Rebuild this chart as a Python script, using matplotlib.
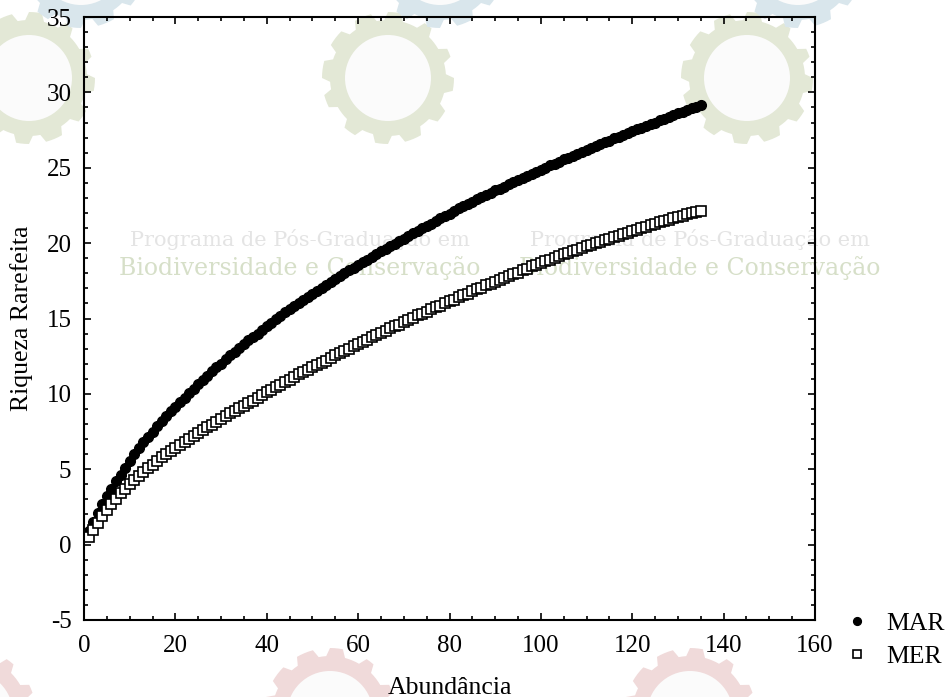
import numpy as np
import matplotlib
matplotlib.use("Agg")
import matplotlib.pyplot as plt
from matplotlib.patches import Circle, Polygon
from matplotlib.ticker import MultipleLocator

plt.rcParams['font.family'] = ['Liberation Serif', 'DejaVu Serif']
plt.rcParams['axes.unicode_minus'] = False

# abundance (number of individuals sampled)
abundance = list(range(1, 136))

# rarefied richness
mar = [0.9, 1.5, 2.1, 2.7, 3.2, 3.7, 4.2, 4.65, 5.1, 5.55,
       6.0, 6.4, 6.8, 7.15, 7.5, 7.85, 8.2, 8.5, 8.85, 9.15,
       9.45, 9.75, 10.05, 10.35, 10.65, 10.95, 11.2, 11.5, 11.75, 12.0,
       12.3, 12.55, 12.8, 13.05, 13.3, 13.55, 13.8, 14.0, 14.25, 14.5,
       14.7, 14.95, 15.15, 15.45, 15.65, 15.85, 16.05, 16.25, 16.45, 16.65,
       16.85, 17.05, 17.25, 17.45, 17.6, 17.8, 18.0, 18.2, 18.35, 18.55,
       18.75, 18.9, 19.1, 19.25, 19.45, 19.6, 19.8, 19.95, 20.15, 20.3,
       20.5, 20.65, 20.8, 21.0, 21.15, 21.3, 21.5, 21.65, 21.8, 21.95,
       22.1, 22.3, 22.45, 22.6, 22.75, 22.9, 23.05, 23.2, 23.35, 23.5,
       23.6, 23.75, 23.9, 24.05, 24.2, 24.3, 24.45, 24.6, 24.75, 24.85,
       25.0, 25.15, 25.25, 25.4, 25.55, 25.65, 25.8, 25.9, 26.05, 26.2,
       26.3, 26.45, 26.55, 26.7, 26.8, 26.95, 27.05, 27.2, 27.3, 27.45,
       27.55, 27.65, 27.8, 27.9, 28.0, 28.15, 28.25, 28.35, 28.5, 28.6,
       28.7, 28.85, 28.95, 29.05, 29.15]

mer = [0.5, 1.0, 1.45, 1.9, 2.3, 2.7, 3.05, 3.4, 3.7, 4.0,
       4.3, 4.55, 4.8, 5.05, 5.3, 5.55, 5.8, 6.0, 6.2, 6.4,
       6.6, 6.8, 7.0, 7.2, 7.4, 7.6, 7.8, 7.95, 8.15, 8.35,
       8.5, 8.7, 8.85, 9.05, 9.2, 9.4, 9.55, 9.75, 9.9, 10.1,
       10.25, 10.45, 10.6, 10.8, 10.95, 11.1, 11.3, 11.45, 11.6, 11.75,
       11.9, 12.05, 12.2, 12.4, 12.55, 12.7, 12.85, 13.0, 13.15, 13.3,
       13.45, 13.6, 13.75, 13.9, 14.05, 14.2, 14.35, 14.5, 14.6, 14.75,
       14.9, 15.05, 15.2, 15.3, 15.45, 15.6, 15.75, 15.85, 16.0, 16.15,
       16.25, 16.4, 16.55, 16.65, 16.8, 16.95, 17.05, 17.2, 17.3, 17.45,
       17.55, 17.7, 17.8, 17.95, 18.05, 18.2, 18.3, 18.45, 18.55, 18.65,
       18.8, 18.9, 19.0, 19.15, 19.25, 19.35, 19.45, 19.55, 19.7, 19.8,
       19.9, 20.0, 20.1, 20.2, 20.3, 20.4, 20.5, 20.6, 20.7, 20.8,
       20.9, 21.0, 21.1, 21.2, 21.3, 21.4, 21.45, 21.55, 21.65, 21.75,
       21.8, 21.9, 22.0, 22.05, 22.15]

W, H = 951.0, 697.0
fig = plt.figure(figsize=(W / 100, H / 100), dpi=100)
px = fig.dpi_scale_trans  # inches; 1 inch = 100 px here


def gear(cx, cy, col):
    # faint watermark gear, given in figure pixels (y from the top)
    ang = np.linspace(0, 2 * np.pi, 12 * 8, endpoint=False)
    r = np.where((ang * 12 / (2 * np.pi)) % 1 < 0.5, 66, 58)
    xs = (cx + r * np.cos(ang)) / 100
    ys = (H - cy - r * np.sin(ang)) / 100
    fig.patches.append(Polygon(np.column_stack([xs, ys]), closed=True, transform=px,
                               facecolor=col, edgecolor='none', zorder=-2))
    fig.patches.append(Circle((cx / 100, (H - cy) / 100), 0.43, transform=px,
                              facecolor='#fbfbfb', edgecolor='none', zorder=-1))


for gx, gy, col in [(29, 78, '#e3e8d6'), (388, 78, '#e3e8d6'), (747, 78, '#e3e8d6'),
                    (81, -38, '#d9e6ec'), (440, -38, '#d9e6ec'), (798, -38, '#d9e6ec'),
                    (-30, 714, '#f0dada'), (330, 714, '#f0dada'), (690, 714, '#f0dada')]:
    gear(gx, gy, col)

for cx in [300, 700]:
    fig.text(cx / W, 1 - 240 / H, 'Programa de Pós-Graduação em', color='#e4e4e4',
             fontsize=15, family='DejaVu Serif', ha='center', va='center', zorder=-1)
    fig.text(cx / W, 1 - 268 / H, 'Biodiversidade e Conservação', color='#d6dfc8',
             fontsize=17, family='DejaVu Serif', ha='center', va='center', zorder=-1)

ax = fig.add_axes([84 / W, 1 - 620 / H, 731 / W, 603 / H])
ax.patch.set_alpha(0)

ax.plot(abundance, mar, 'o', color='black', markersize=7, label='MAR')
ax.plot(abundance, mer, 's', markerfacecolor='white', markeredgecolor='black',
        markeredgewidth=1.2, markersize=6.5, label='MER')

ax.set_xlim(0, 160)
ax.set_ylim(-5, 35)
ax.xaxis.set_major_locator(MultipleLocator(20))
ax.xaxis.set_minor_locator(MultipleLocator(5))
ax.yaxis.set_major_locator(MultipleLocator(5))
ax.yaxis.set_minor_locator(MultipleLocator(1))
ax.tick_params(which='both', direction='in', top=True, right=True, labelsize=18, width=1.2)
ax.tick_params(which='major', length=5)
ax.tick_params(which='minor', length=3)
ax.tick_params(axis='x', pad=11)
ax.tick_params(axis='y', pad=9)
for sp in ax.spines.values():
    sp.set_linewidth(1.5)

ax.set_xlabel('Abundância', fontsize=18.5, labelpad=14)
ax.set_ylabel('Riqueza Rarefeita', fontsize=18.5, labelpad=10)

ax.legend(loc='center left', bbox_to_anchor=(0.99, -0.033), frameon=False, fontsize=18.5,
          handletextpad=0.15, labelspacing=0.4, markerscale=0.8)

fig.savefig('out.png', dpi=100)
